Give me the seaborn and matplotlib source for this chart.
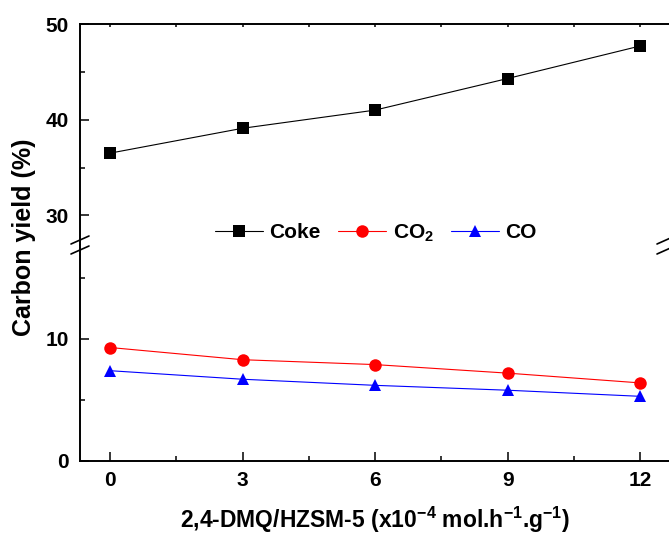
import numpy as np
import pandas as pd
import matplotlib
matplotlib.use("Agg")
import matplotlib.pyplot as plt
from matplotlib.ticker import MultipleLocator
import seaborn as sns

# data
loading = [0, 3, 6, 9, 12]
coke = [36.5, 39.1, 41.0, 44.3, 47.7]
co2 = [9.3, 8.3, 7.9, 7.2, 6.4]
co = [7.4, 6.7, 6.2, 5.8, 5.3]
series_names = ["Coke", "CO$_\\mathbf{2}$", "CO"]

sns.set_theme(style="ticks")
plt.rcParams["font.family"] = ["Liberation Sans", "DejaVu Sans"]
plt.rcParams["font.weight"] = "bold"
plt.rcParams["mathtext.fontset"] = "custom"
plt.rcParams["mathtext.rm"] = "Liberation Sans:bold"
plt.rcParams["mathtext.bf"] = "Liberation Sans:bold"
plt.rcParams["mathtext.default"] = "bf"
for key in ("text.color", "axes.labelcolor", "xtick.color", "ytick.color", "axes.edgecolor"):
    plt.rcParams[key] = "black"

df = pd.DataFrame({
    "x": loading * 3,
    "y": coke + co2 + co,
    "series": [series_names[0]] * 5 + [series_names[1]] * 5 + [series_names[2]] * 5,
})

W, H = 669, 537
fig = plt.figure(figsize=(W / 100, H / 100), dpi=100)
left = 80 / W
right = 671 / W
y_top, y_brk, y_bot = 24, 245, 461
ax_top = fig.add_axes([left, 1 - y_brk / H, right - left, (y_brk - y_top) / H])
ax_bot = fig.add_axes([left, 1 - y_bot / H, right - left, (y_bot - y_brk) / H])

palette = {series_names[0]: "black", series_names[1]: "red", series_names[2]: "blue"}
markers = {series_names[0]: "s", series_names[1]: "o", series_names[2]: "^"}

for ax in (ax_top, ax_bot):
    sns.lineplot(data=df, x="x", y="y", hue="series", style="series",
                 palette=palette, markers=markers, dashes=False,
                 markersize=9, markeredgewidth=0, linewidth=0.8,
                 legend=(ax is ax_top), ax=ax)
    ax.set_xlim(-0.68, 12.7)
    ax.xaxis.set_major_locator(MultipleLocator(3))
    ax.xaxis.set_minor_locator(MultipleLocator(1.5))
    ax.set_xlabel("")
    ax.set_ylabel("")
    for s in ax.spines.values():
        s.set_linewidth(1.4)
        s.set_color("black")
    ax.spines["right"].set_visible(False)
    ax.tick_params(which="major", direction="in", length=6.5, width=1.1,
                   labelsize=15, pad=8, color="black", labelcolor="black")
    ax.tick_params(which="minor", direction="in", length=3.5, width=1.1,
                   color="black")

ax_top.set_ylim(26.9, 50)
ax_top.yaxis.set_major_locator(MultipleLocator(10))
ax_top.yaxis.set_minor_locator(MultipleLocator(5))
ax_top.spines["bottom"].set_visible(False)
ax_top.tick_params(axis="x", which="both", bottom=False, labelbottom=False,
                   top=True, length=2.5)

ax_bot.set_ylim(0, 17.7)
ax_bot.yaxis.set_major_locator(MultipleLocator(10))
ax_bot.yaxis.set_minor_locator(MultipleLocator(5))
ax_bot.spines["top"].set_visible(False)
ax_bot.tick_params(axis="x", which="both", top=False)
ax_bot.tick_params(axis="x", which="major", pad=7)

for lab in ax_top.get_yticklabels() + ax_bot.get_yticklabels() + ax_bot.get_xticklabels():
    lab.set_fontweight("bold")

ax_bot.set_xlabel("2,4-DMQ/HZSM-5 (x10$^{-4}$ mol.h$^{-1}$.g$^{-1}$)",
                  fontsize=16.5, fontweight="bold", labelpad=11, color="black")
fig.text(24 / W, 1 - 237 / H, "Carbon yield (%)", rotation=90, fontsize=18,
         fontweight="bold", ha="center", va="center", color="black")

leg = ax_top.legend(loc="center", bbox_to_anchor=(376 / W, 1 - 233 / H),
                    bbox_transform=fig.transFigure, ncol=3, frameon=False,
                    handlelength=2.3, columnspacing=0.85, handletextpad=0.3,
                    prop={"size": 15, "weight": "bold"})
for t in leg.get_texts():
    t.set_color("black")

# axis break marks
for bx in (80, 666):
    for dy in (-5, 5):
        xs = np.array([bx - 9, bx + 9]) / W
        ys = 1 - (np.array([y_brk + dy + 4, y_brk + dy - 4])) / H
        fig.add_artist(plt.Line2D(xs, ys, color="black", linewidth=1.2))

fig.savefig("out.png", dpi=100)
